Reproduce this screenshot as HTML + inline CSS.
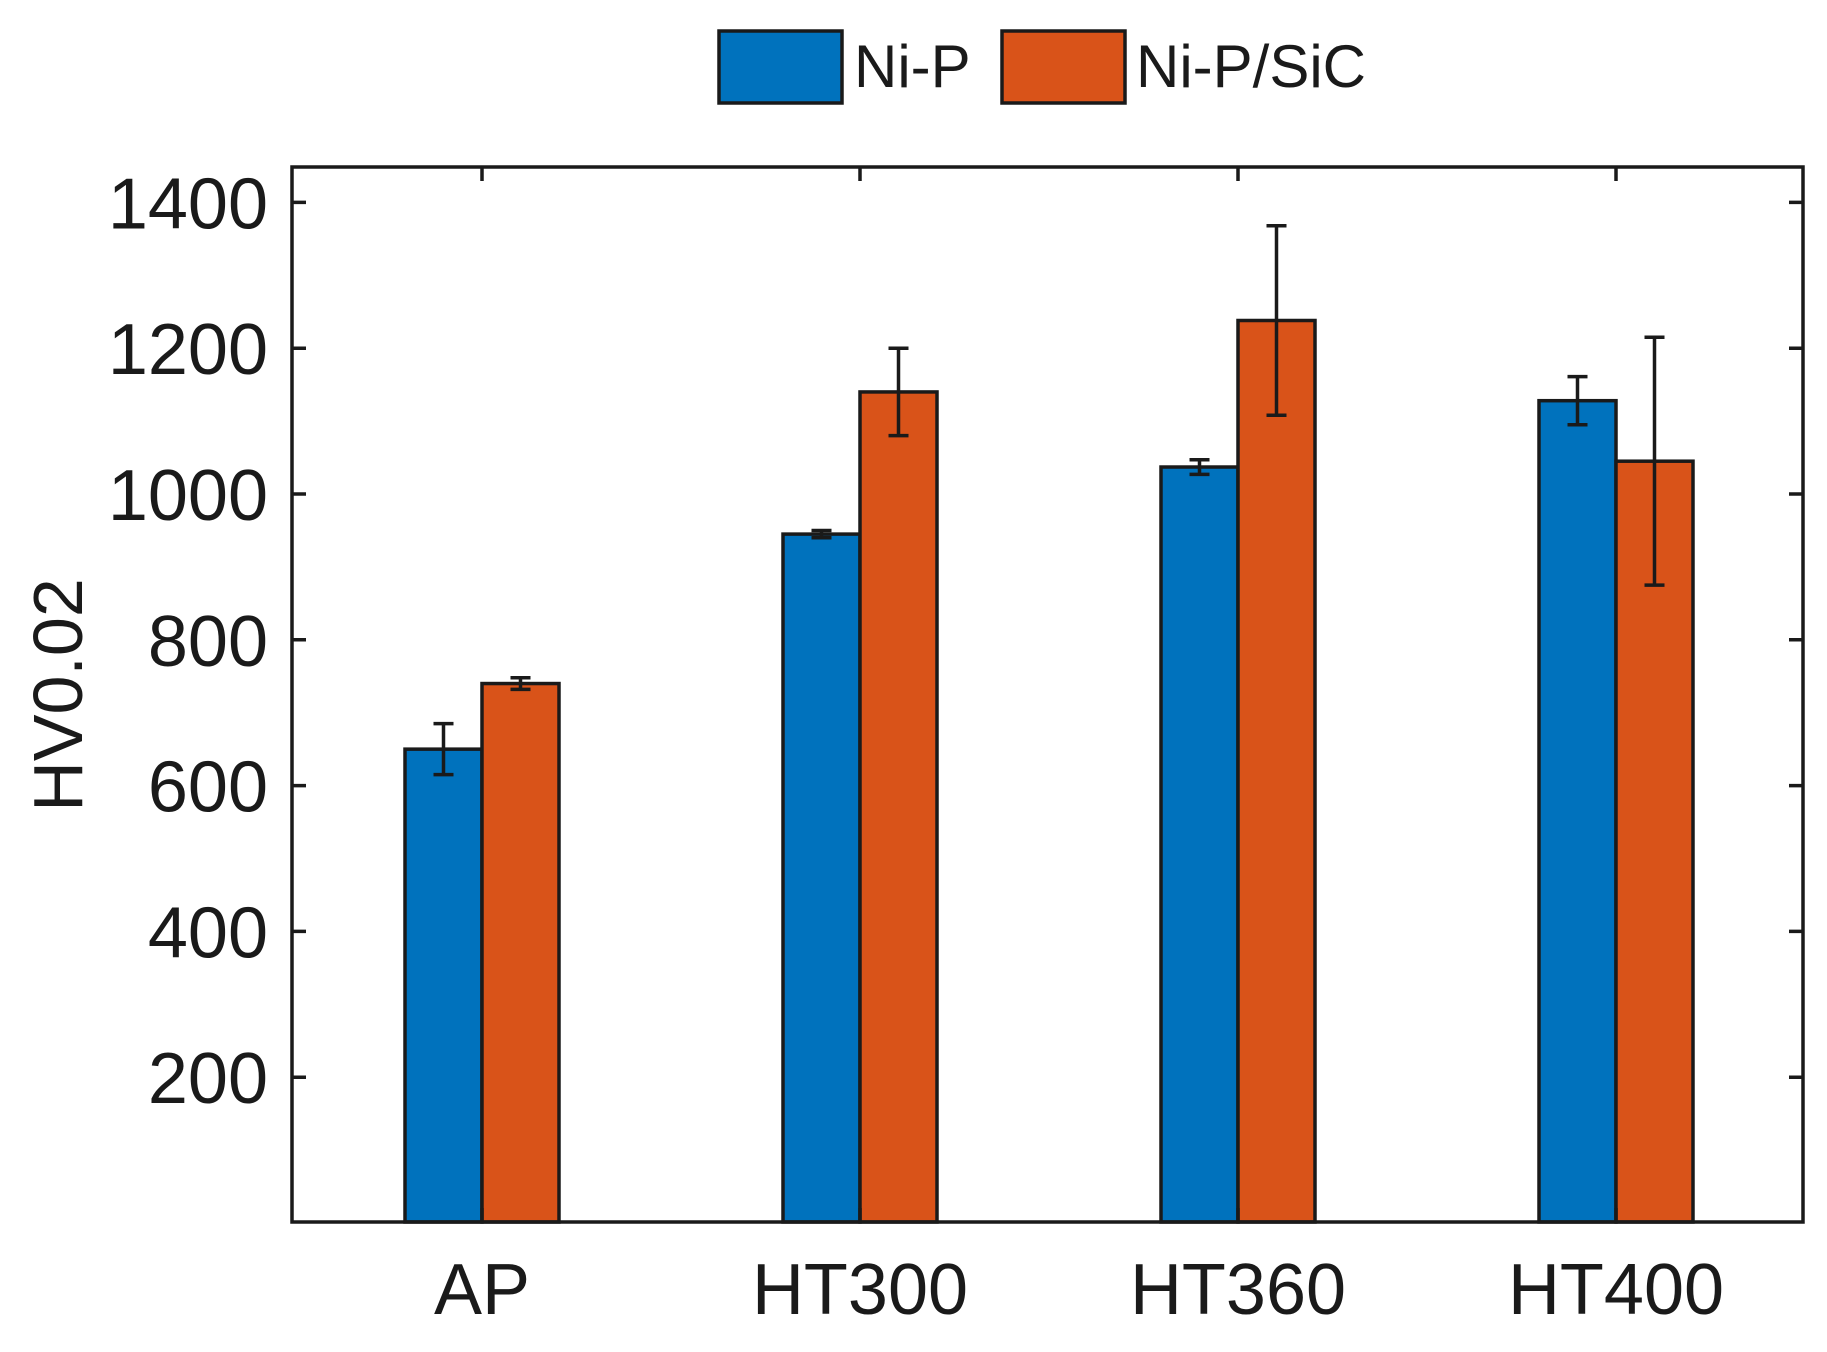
<!DOCTYPE html>
<html><head><meta charset="utf-8"><style>
body{margin:0;background:#fff;}
svg text{font-family:"Liberation Sans",sans-serif;fill:#1a1a1a;}
</style></head><body>
<svg id="chart" width="1827" height="1347" viewBox="0 0 1827 1347" xmlns="http://www.w3.org/2000/svg">
<g>
<rect x="719" y="31" width="123" height="72" fill="#0072BD" stroke="#1a1a1a" stroke-width="3.5"/>
<text x="854" y="87" font-size="60">Ni-P</text>
<rect x="1002" y="31" width="123" height="72" fill="#D95319" stroke="#1a1a1a" stroke-width="3.5"/>
<text x="1136" y="87" font-size="60">Ni-P/SiC</text>
</g>
<g id="plot"></g>
<text transform="translate(82,695) rotate(-90)" text-anchor="middle" font-size="70">HV0.02</text>
</svg>
<script>
const categories = ["AP","HT300","HT360","HT400"];
const niP = [650, 945, 1037, 1128];
const niPErr = [35, 5, 10, 33];
const niPSiC = [740, 1140, 1238, 1045];
const niPSiCErr = [8, 60, 130, 170];
const yTicks = [200, 400, 600, 800, 1000, 1200, 1400];

const L=292, R=1803, T=167, B=1222;
const y0px=1223, pxPer=145.8/200;
const y = v => y0px - v*pxPer;
const x = i => 482 + i*378;
const bw = 77;
const NS='http://www.w3.org/2000/svg';
const g = document.getElementById('plot');
function mk(tag, attrs){const e=document.createElementNS(NS,tag);for(const k in attrs)e.setAttribute(k,attrs[k]);g.appendChild(e);return e;}

categories.forEach((c,i)=>{
  const b1 = mk('rect',{x:x(i)-bw,y:y(niP[i]),width:bw,height:B-y(niP[i]),fill:'#0072BD',stroke:'#1a1a1a','stroke-width':3.5});
  
  
  const b2 = mk('rect',{x:x(i),y:y(niPSiC[i]),width:bw,height:B-y(niPSiC[i]),fill:'#D95319',stroke:'#1a1a1a','stroke-width':3.5});
  
  
  [[x(i)-bw/2,niP[i],niPErr[i],'ni-p'],[x(i)+bw/2,niPSiC[i],niPSiCErr[i],'ni-p-sic']].forEach(([cx,v,e,s])=>{
    const p = mk('path',{d:`M${cx},${y(v+e)}V${y(v-e)}M${cx-10},${y(v+e)}H${cx+10}M${cx-10},${y(v-e)}H${cx+10}`,stroke:'#1a1a1a','stroke-width':3.5,fill:'none'});
    
    
  });
  const t = mk('path',{d:`M${x(i)},${T}v14M${x(i)},${B}v-14`,stroke:'#1a1a1a','stroke-width':3.5});
  
  
  const lbl = mk('text',{x:x(i),y:1314,'text-anchor':'middle','font-size':72});
  lbl.textContent=c;
  
  
});
yTicks.forEach(v=>{
  const t = mk('path',{d:`M${L},${y(v)}h14M${R},${y(v)}h-14`,stroke:'#1a1a1a','stroke-width':3.5});
  
  
  const lbl = mk('text',{x:268,y:y(v)+26,'text-anchor':'end','font-size':72});
  lbl.textContent=v;
  
  
});
const frame = mk('rect',{x:L,y:T,width:R-L,height:B-T,fill:'none',stroke:'#1a1a1a','stroke-width':3.5});


</script>
</body></html>
